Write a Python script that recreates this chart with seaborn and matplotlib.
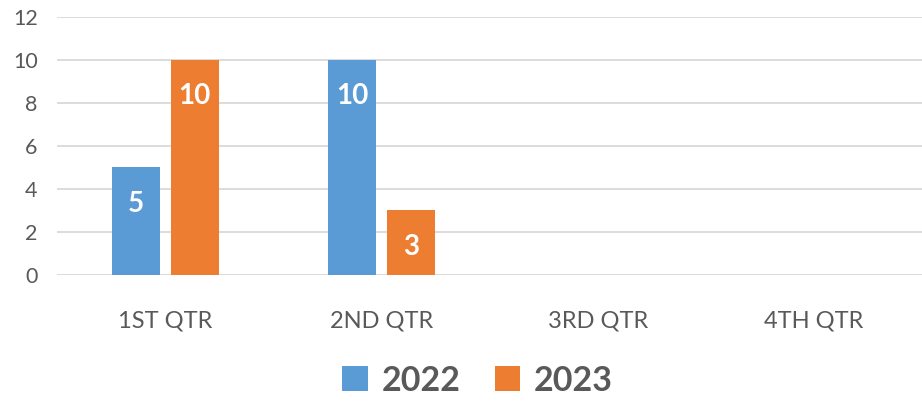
import numpy as np
import pandas as pd
import matplotlib
matplotlib.use("Agg")
import matplotlib.pyplot as plt
import seaborn as sns

# chart data
quarters = ["1ST QTR", "2ND QTR", "3RD QTR", "4TH QTR"]
sales_2022 = [5, 10, np.nan, np.nan]
sales_2023 = [10, 3, np.nan, np.nan]
years = ["2022", "2023"]
y_ticks = [0, 2, 4, 6, 8, 10, 12]

df = pd.DataFrame({
    "qtr": quarters * 2,
    "value": sales_2022 + sales_2023,
    "year": [years[0]] * 4 + [years[1]] * 4,
})

sns.set_style("white")
plt.rcParams["font.family"] = ["Lato", "DejaVu Sans"]

grey = "#595959"
fig = plt.figure(figsize=(9.22, 4.03), dpi=100)
ax = fig.add_axes([0.062, 0.318, 0.938, 0.64])

sns.barplot(data=df, x="qtr", y="value", hue="year", order=quarters,
            hue_order=years, palette=["#5B9BD5", "#ED7D31"], saturation=1,
            width=0.545, gap=0.185, linewidth=0, errorbar=None, ax=ax)

ax.set_ylim(0, 12)
ax.set_yticks(y_ticks)
ax.set_xlim(-0.5, 3.5)
ax.yaxis.grid(True, color="#D9D9D9", linewidth=1.3)
ax.set_axisbelow(True)
for s in ax.spines.values():
    s.set_visible(False)
ax.tick_params(axis="y", length=0, labelsize=15.5, labelcolor=grey, pad=14)
ax.tick_params(axis="x", length=0, labelsize=17, labelcolor=grey, pad=26)
ax.set_xlabel("")
ax.set_ylabel("")

# value labels inside the bars
for p in ax.patches:
    h = p.get_height()
    if np.isfinite(h) and h > 0:
        ax.text(p.get_x() + p.get_width() / 2, h - 1.7, f"{h:g}",
                ha="center", va="center", color="white",
                fontsize=20, fontweight="bold")

handles, labels = ax.get_legend_handles_labels()
ax.legend_.remove()
leg = fig.legend(handles, labels, loc="lower center", bbox_to_anchor=(0.518, -0.06),
                 ncol=2, frameon=False, fontsize=24.5, handlelength=0.75,
                 handleheight=0.75, handletextpad=0.4, columnspacing=1.0)
for t in leg.get_texts():
    t.set_color(grey)
    t.set_fontweight("bold")

fig.savefig("out.png", dpi=100)
